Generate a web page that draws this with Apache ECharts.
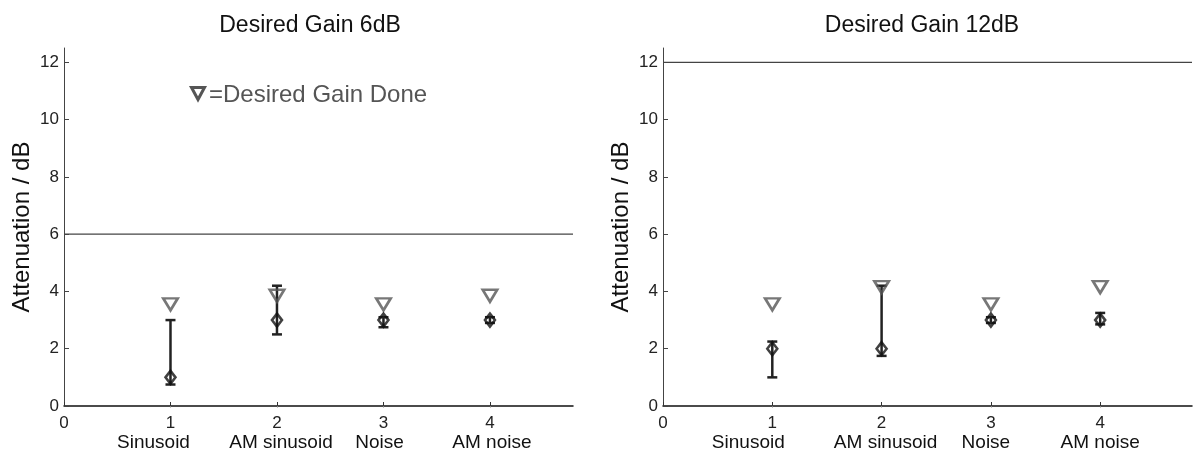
<!DOCTYPE html>
<html>
<head>
<meta charset="utf-8">
<title>Desired Gain</title>
<script src="https://cdn.jsdelivr.net/npm/echarts@6/dist/echarts.min.js"></script>
<style>
  html, body { margin: 0; padding: 0; background: #fff; }
  #chart { width: 1193px; height: 455px; }
</style>
</head>
<body>
<div id="chart"></div>
<script>
// Stimulus conditions along the x axis
const categories = ['Sinusoid', 'AM sinusoid', 'Noise', 'AM noise'];
const positions = [1, 2, 3, 4];

// Desired gain 6 dB
const gain6Done = [3.55, 3.85, 3.55, 3.85];
const gain6Att = [1, 3, 3, 3];
const gain6Low = [0.75, 2.5, 2.75, 2.9];
const gain6High = [3.0, 4.2, 3.1, 3.1];

// Desired gain 12 dB
const gain12Done = [3.55, 4.15, 3.55, 4.15];
const gain12Att = [2, 2, 3, 3];
const gain12Low = [1.0, 1.75, 2.9, 2.85];
const gain12High = [2.25, 4.2, 3.1, 3.25];

// Target gain per panel and axis ticks
const desiredGain = [6, 12];
const yTicks = [0, 2, 4, 6, 8, 10, 12];
const xTicks = [0, 1, 2, 3, 4];

const FONT = '"Liberation Sans", Arial, Helvetica, sans-serif';

const panels = [
  { title: 'Desired Gain 6dB', done: gain6Done, att: gain6Att, low: gain6Low, high: gain6High,
    grid: { left: 64, top: 48, width: 509, height: 358 }, xMax: 4.78,
    titleX: 305, nameShift: [-17, 4, -4, 2] },
  { title: 'Desired Gain 12dB', done: gain12Done, att: gain12Att, low: gain12Low, high: gain12High,
    grid: { left: 663, top: 48, width: 529, height: 358 }, xMax: 4.84,
    titleX: 917, nameShift: [-24, 4, -5, 0] }
];

function zip(xs, ys) { return xs.map((x, i) => [x, ys[i]]); }

function nameRich(shift) {
  const rich = { num: { fontSize: 17, lineHeight: 18, color: '#222', fontFamily: FONT } };
  shift.forEach((d, i) => {
    rich['n' + i] = {
      fontSize: 19, lineHeight: 22, color: '#111', fontFamily: FONT,
      padding: d < 0 ? [0, -2 * d, 0, 0] : [0, 0, 0, 2 * d]
    };
  });
  return rich;
}

const grids = [], xAxes = [], yAxes = [], series = [], titles = [];

panels.forEach((p, k) => {
  grids.push(Object.assign({ outerBoundsMode: 'none', containLabel: false }, p.grid));

  titles.push({
    text: p.title, left: p.titleX, top: 9, textAlign: 'center',
    textStyle: { fontSize: 23, fontWeight: 'normal', color: '#111', fontFamily: FONT }
  });

  // bottom axis with condition numbers and names
  xAxes.push({
    type: 'value', gridIndex: k, min: 0, max: p.xMax, position: 'bottom',
    axisLine: { show: true, onZero: false, lineStyle: { color: '#111', width: 1.5 } },
    axisTick: { show: true, inside: true, length: 4, customValues: xTicks, lineStyle: { color: '#333' } },
    axisLabel: {
      show: true, margin: 8, customValues: xTicks, showMaxLabel: true,
      formatter: function (v) {
        if (v === 0) return '{num|0}';
        const i = positions.indexOf(v);
        return '{num|' + v + '}\n{n' + i + '|' + categories[i] + '}';
      },
      rich: nameRich(p.nameShift)
    },
    splitLine: { show: false }
  });
  // faint top ticks
  xAxes.push({
    type: 'value', gridIndex: k, min: 0, max: p.xMax, position: 'top',
    axisLine: { show: false },
    axisTick: { show: true, inside: true, length: 1.5, customValues: positions, lineStyle: { color: '#888' } },
    axisLabel: { show: false },
    splitLine: { show: false }
  });

  yAxes.push({
    type: 'value', gridIndex: k, min: 0, max: 12.5,
    name: 'Attenuation / dB', nameLocation: 'middle', nameGap: 30,
    nameTextStyle: { fontSize: 24, color: '#111', fontFamily: FONT },
    axisLine: { show: true, onZero: false, lineStyle: { color: '#444', width: 1 } },
    axisTick: { show: true, inside: true, length: 5, customValues: yTicks, lineStyle: { color: '#444' } },
    axisLabel: { show: true, margin: 5, customValues: yTicks, fontSize: 17, color: '#222', fontFamily: FONT },
    splitLine: { show: false }
  });

  const xi = k * 2, yi = k;

  // desired gain reference line
  series.push({
    type: 'line', xAxisIndex: xi, yAxisIndex: yi,
    data: [[0, desiredGain[k]], [p.xMax, desiredGain[k]]],
    symbol: 'none', silent: true,
    lineStyle: { color: '#444', width: 1.2 }
  });

  // desired gain done markers
  series.push({
    type: 'scatter', xAxisIndex: xi, yAxisIndex: yi,
    data: zip(positions, p.done),
    symbol: 'triangle', symbolRotate: 180, symbolSize: [14.5, 12],
    itemStyle: { color: 'rgba(0,0,0,0)', borderColor: '#555', borderWidth: 2.6 }
  });

  // spread of attenuation
  series.push({
    type: 'custom', xAxisIndex: xi, yAxisIndex: yi,
    data: positions.map((x, i) => [x, p.low[i], p.high[i]]),
    renderItem: function (params, api) {
      const x = api.value(0);
      const a = api.coord([x, api.value(1)]);
      const b = api.coord([x, api.value(2)]);
      const cap = 5;
      const style = { stroke: '#222', lineWidth: 2.5 };
      return {
        type: 'group',
        children: [
          { type: 'line', shape: { x1: a[0], y1: a[1], x2: b[0], y2: b[1] }, style: style },
          { type: 'line', shape: { x1: a[0] - cap, y1: a[1], x2: a[0] + cap, y2: a[1] }, style: style },
          { type: 'line', shape: { x1: b[0] - cap, y1: b[1], x2: b[0] + cap, y2: b[1] }, style: style }
        ]
      };
    }
  });

  // measured attenuation
  series.push({
    type: 'scatter', xAxisIndex: xi, yAxisIndex: yi,
    data: zip(positions, p.att),
    symbol: 'diamond', symbolSize: [10, 13],
    itemStyle: { color: 'rgba(0,0,0,0)', borderColor: '#111', borderWidth: 2.6 }
  });
});

const chart = echarts.init(document.getElementById('chart'), null, { renderer: 'canvas' });
chart.setOption({
  animation: false,
  backgroundColor: '#fff',
  title: titles,
  grid: grids,
  xAxis: xAxes,
  yAxis: yAxes,
  series: series,
  graphic: [
    {
      type: 'polygon', left: 190, top: 86,
      shape: { points: [[0, 0], [13, 0], [6.5, 12]] },
      style: { fill: '#fff', stroke: '#555', lineWidth: 3, lineJoin: 'miter' }
    },
    {
      type: 'text', left: 209, top: 83,
      style: { text: '=Desired Gain Done', fontSize: 24, fill: '#555', fontFamily: FONT }
    }
  ]
});
</script>
</body>
</html>
